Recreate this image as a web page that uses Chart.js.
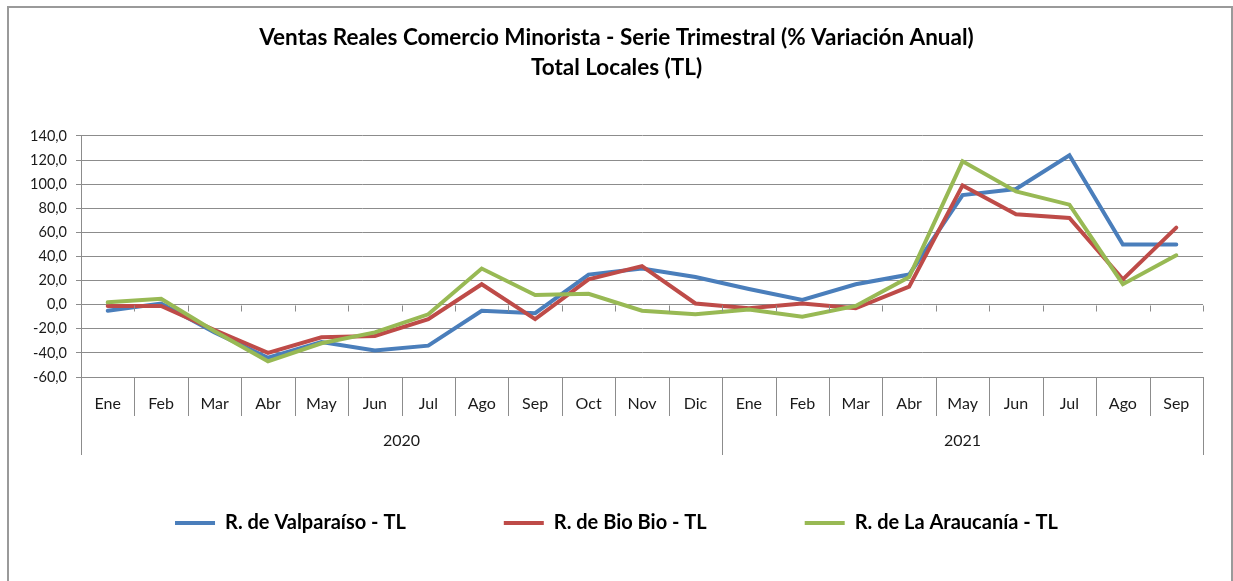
<!DOCTYPE html>
<html>
<head>
<meta charset="utf-8">
<script src="https://cdn.jsdelivr.net/npm/chart.js@4"></script>
<style>
  body { margin: 0; background: #fff; }
</style>
</head>
<body>
<canvas id="ventasChart" width="1233" height="581"></canvas>
<script>
var months = ['Ene', 'Feb', 'Mar', 'Abr', 'May', 'Jun', 'Jul', 'Ago', 'Sep', 'Oct', 'Nov', 'Dic',
              'Ene', 'Feb', 'Mar', 'Abr', 'May', 'Jun', 'Jul', 'Ago', 'Sep'];
var yearLabels = ['2020', '2021'];
var monthsPerYear = [12, 9];

var valparaiso = [-5, 1, -23, -44, -31, -38, -34, -5, -7, 25, 30, 23, 13, 4, 17, 25, 91, 96, 124, 50, 50];
var bioBio = [-1, -1, -21, -40, -27, -26, -12, 17, -12, 21, 32, 1, -3, 1, -3, 15, 99, 75, 72, 21, 64];
var araucania = [2, 5, -22, -47, -32, -23, -8, 30, 8, 9, -5, -8, -4, -10, -1, 23, 119, 94, 83, 17, 41];

var fontFamily = "Lato, 'Liberation Sans', sans-serif";
var gridColor = '#8c8c8c';

// lineas separadoras, etiquetas de año y marco
var excelAxis = {
    id: 'excelAxis',
    beforeDraw: function (chart) {
        var ctx = chart.ctx;
        ctx.save();
        ctx.strokeStyle = '#9a9a9a';
        ctx.lineWidth = 2;
        ctx.strokeRect(8, 7, 1224, 600);
        ctx.restore();
    },
    afterDraw: function (chart) {
        var ctx = chart.ctx;
        var xs = chart.scales.x;
        var ys = chart.scales.y;
        var n = months.length;
        var step = (xs.right - xs.left) / n;
        var bottom = chart.chartArea.bottom;
        var y0 = Math.round(ys.getPixelForValue(0)) + 0.5;

        ctx.save();
        ctx.strokeStyle = gridColor;
        ctx.lineWidth = 1;
        ctx.beginPath();
        var boundaries = [0];
        var acc = 0;
        for (var j = 0; j < monthsPerYear.length; j++) {
            acc += monthsPerYear[j];
            boundaries.push(acc);
        }
        for (var k = 0; k <= n; k++) {
            var x = Math.round(xs.left + k * step) + 0.5;
            var len = boundaries.indexOf(k) >= 0 ? 78 : 39;
            ctx.moveTo(x, bottom);
            ctx.lineTo(x, bottom + len);
            if (k > 0) {
                ctx.moveTo(x, y0);
                ctx.lineTo(x, y0 + 6);
            }
        }
        ctx.stroke();

        ctx.fillStyle = '#1a1a1a';
        ctx.font = '16px ' + fontFamily;
        ctx.textAlign = 'center';
        ctx.textBaseline = 'middle';
        for (var i = 0; i < yearLabels.length; i++) {
            var xa = xs.left + boundaries[i] * step;
            var xb = xs.left + boundaries[i + 1] * step;
            ctx.fillText(yearLabels[i], (xa + xb) / 2, bottom + 64);
        }
        ctx.restore();
    }
};

var ctx = document.getElementById('ventasChart');

var ventasChart = new Chart(ctx, {
    type: 'line',
    data: {
        labels: months,
        datasets: [{
            label: 'R. de Valparaíso - TL',
            data: valparaiso,
            borderColor: '#4a7ebb',
            backgroundColor: '#4a7ebb',
            order: 3
        }, {
            label: 'R. de Bio Bio - TL',
            data: bioBio,
            borderColor: '#be4b48',
            backgroundColor: '#be4b48',
            order: 2
        }, {
            label: 'R. de La Araucanía - TL',
            data: araucania,
            borderColor: '#98b954',
            backgroundColor: '#98b954',
            order: 1
        }]
    },
    options: {
        responsive: false,
        animation: false,
        datasets: {
            line: {
                borderWidth: 4,
                tension: 0,
                pointRadius: 0,
                fill: false,
                borderCapStyle: 'round',
                borderJoinStyle: 'miter'
            }
        },
        layout: {
            padding: { left: 30, right: 30, top: 0, bottom: 38 }
        },
        scales: {
            x: {
                offset: true,
                grid: { display: false, drawTicks: false },
                border: { display: false },
                ticks: {
                    padding: 17,
                    color: '#1a1a1a',
                    maxRotation: 0,
                    autoSkip: false,
                    font: { family: fontFamily, size: 16 }
                },
                afterFit: function (scale) { scale.height = 38; }
            },
            y: {
                min: -60,
                max: 140,
                ticks: {
                    stepSize: 20,
                    padding: 9,
                    color: '#1a1a1a',
                    font: { family: fontFamily, size: 14.5 },
                    callback: function (v) { return v.toFixed(1).replace('.', ','); }
                },
                grid: { color: gridColor, lineWidth: 1, tickLength: 5 },
                border: { display: true, color: gridColor, width: 1 },
                afterFit: function (scale) { scale.width = 51; }
            }
        },
        plugins: {
            title: {
                display: true,
                text: ['Ventas Reales Comercio Minorista - Serie Trimestral (% Variación Anual)', 'Total Locales (TL)'],
                color: '#000',
                font: { family: fontFamily, size: 22.5, weight: 'bold', lineHeight: 1.333 },
                padding: { top: 23, bottom: 53 }
            },
            legend: {
                position: 'bottom',
                labels: {
                    usePointStyle: true,
                    pointStyle: 'line',
                    pointStyleWidth: 40,
                    boxHeight: 20,
                    padding: 98,
                    color: '#000',
                    font: { family: fontFamily, size: 20, weight: 'bold' },
                    sort: function (a, b) { return a.datasetIndex - b.datasetIndex; }
                }
            },
            tooltip: { enabled: false }
        }
    },
    plugins: [excelAxis]
});
</script>
</body>
</html>
